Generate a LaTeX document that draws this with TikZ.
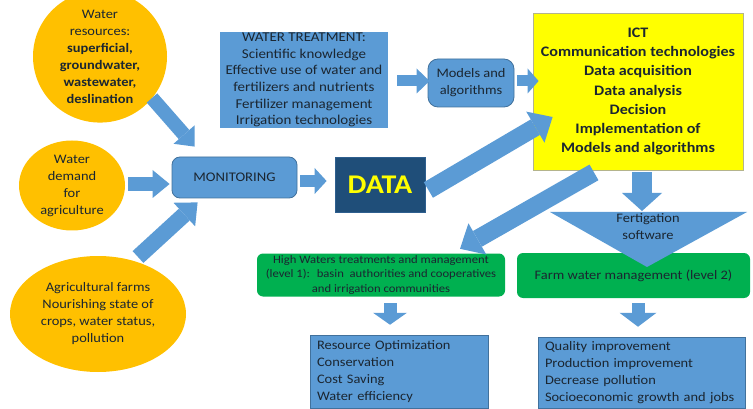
\documentclass[tikz,border=0pt]{standalone}
\usepackage{fontspec}
\setmainfont{Carlito}[FakeStretch=1.11]
\usetikzlibrary{arrows.meta,shapes.geometric,calc}

\definecolor{ovalgold}{HTML}{FFC000}
\definecolor{boxblue}{HTML}{5B9BD5}
\definecolor{edgeblue}{HTML}{41719C}
\definecolor{leafgreen}{HTML}{00B050}
\definecolor{ictyellow}{HTML}{FFFF00}
\definecolor{ictedge}{HTML}{B4B48C}
\definecolor{datanavy}{HTML}{1F4E79}
\definecolor{dataedge}{HTML}{2E5F8F}
\definecolor{ink}{HTML}{1B2631}

\begin{document}
\begin{tikzpicture}[x=1pt,y=-1pt,
  oval/.style={ellipse, fill=ovalgold, inner sep=0pt, align=center, text=ink,
               font=\fontsize{13}{17}\selectfont},
  panel/.style={rectangle, fill=boxblue, inner sep=0pt, align=center, text=ink,
                font=\fontsize{13.5}{16.6}\selectfont},
  pill/.style={rectangle, rounded corners=8pt, fill=boxblue, draw=edgeblue,
               line width=0.8pt, inner sep=0pt, align=center, text=ink},
  levelbox/.style={rectangle, rounded corners=6pt, fill=leafgreen, inner sep=0pt,
                   align=center, text=ink},
  listbox/.style={rectangle, fill=boxblue, draw=edgeblue, line width=0.5pt,
                  inner xsep=7pt, inner ysep=0pt, align=left, text=ink,
                  font=\fontsize{13}{17}\selectfont},
  flow/.style args={#1/#2/#3}{draw=boxblue, line width=#1pt,
                  -{Triangle[width=#2pt,length=#3pt,line width=0pt]}}
]
\useasboundingbox (0,0) rectangle (753,409);

% ---- sources ----
\node[oval, minimum width=134pt, minimum height=88pt] (e1) at (100,56.5)
  {Water\\resources:\\\textbf{superficial,}\\\textbf{groundwater,}\\\textbf{wastewater,}\\\textbf{deslination}};
\node[oval, minimum width=106pt, minimum height=90pt] (e2) at (72,185.5)
  {Water\\demand\\for\\agriculture};
\node[oval, minimum width=176pt, minimum height=116pt] (e3) at (98,314)
  {Agricultural farms\\Nourishing state of\\crops, water status,\\pollution};

% ---- knowledge and processing ----
\node[panel, minimum width=168pt, minimum height=96pt] (wt) at (304,80)
  {WATER TREATMENT:\\Scientific knowledge\\Effective use of water and\\fertilizers and nutrients\\Fertilizer management\\Irrigation technologies};
\node[pill, rounded corners=10pt, minimum width=86pt, minimum height=48pt,
      font=\fontsize{13}{17}\selectfont] (mod) at (471,83) {Models and\\algorithms};
\node[rectangle, fill=ictyellow, draw=ictedge, line width=0.8pt, inner sep=0pt,
      align=center, text=ink, font=\bfseries\fontsize{14.5}{19.3}\selectfont,
      minimum width=210pt, minimum height=157pt] (ict) at (638,91.5)
  {ICT\\Communication technologies\\Data acquisition\\Data analysis\\Decision\\Implementation of\\Models and algorithms};
\node[pill, minimum width=125pt, minimum height=41pt,
      font=\fontsize{13.2}{15}\selectfont] (mon) at (234.5,177.5) {MONITORING};
\node[rectangle, fill=datanavy, draw=dataedge, line width=0.8pt, inner sep=0pt,
      text=ictyellow, font=\bfseries\fontsize{27}{30}\selectfont,
      minimum width=90pt, minimum height=55pt] (data) at (380,184.5) {DATA};

% ---- management levels ----
\node[levelbox, minimum width=248pt, minimum height=43pt,
      font=\fontsize{11.4}{14.5}\selectfont] (hw) at (381,275)
  {High Waters treatments and management\\(level 1):~ basin~ authorities and cooperatives\\and irrigation communities};
\node[levelbox, minimum width=233pt, minimum height=45pt,
      font=\fontsize{13}{16}\selectfont] (fw) at (633.5,275.5)
  {Farm water management (level 2)};

% fertigation funnel drawn over the farm level box
\coordinate (fertL) at (550,212);
\coordinate (fertR) at (747,212);
\coordinate (fertV) at (647,267);
\coordinate (fertTop) at (642,211);
\fill[boxblue] (fertL) -- (fertR) -- (fertV) -- cycle;
\node[inner sep=0pt, align=center, text=ink, font=\fontsize{13}{17}\selectfont]
  (fert) at (648,227) {Fertigation\\software};

% ---- outcomes ----
\node[listbox, text width=164pt, minimum height=73pt] (res) at (399,371.5)
  {Resource Optimization\\Conservation\\Cost Saving\\Water efficiency};
\node[listbox, text width=193pt, minimum height=71pt] (qual) at (641.5,372.5)
  {Quality improvement\\Production improvement\\Decrease pollution\\Socioeconomic growth and jobs};

% ---- block arrows ----
\draw[flow=14/28/16] ([shift={(52,41.5)}]e1.center) -- ([shift={(23,-10)}]mon.north west);
\draw[flow=14/28/17] ([shift={(3,-1.5)}]e2.east) -- ([shift={(-2,6.5)}]mon.west);
\draw[flow=16/32/18] ([shift={(40,-57)}]e3.center) -- ([shift={(26,4)}]mon.south west);
\draw[flow=12/26/12] ([shift={(3,3.5)}]mon.east) -- ([shift={(-8,-3.5)}]data.west);
\draw[flow=11/25/13] ([shift={(9,1)}]wt.east) -- ([shift={(2,-2)}]mod.west);
\draw[flow=11/25/11] ([shift={(3,-2)}]mod.east) -- ([shift={(6,-10.5)}]ict.west);
\draw[flow=18/36/20] ([shift={(3,5.5)}]data.east) -- ([shift={(20,25.5)}]ict.west);
\draw[flow=18/36/20] ([shift={(-44,2)}]ict.south) -- ([shift={(79,-4.5)}]hw.north);
\draw[flow=20/40/18] ([shift={(4,2)}]ict.south) -- (fertTop);
\draw[flow=13/34/12] ([shift={(9,6.5)}]hw.south) -- ([shift={(-9,-10)}]res.north);
\draw[flow=13/37/14] ([shift={(4.5,5)}]fw.south) -- ([shift={(-3.5,-10)}]qual.north);
\end{tikzpicture}
\end{document}
